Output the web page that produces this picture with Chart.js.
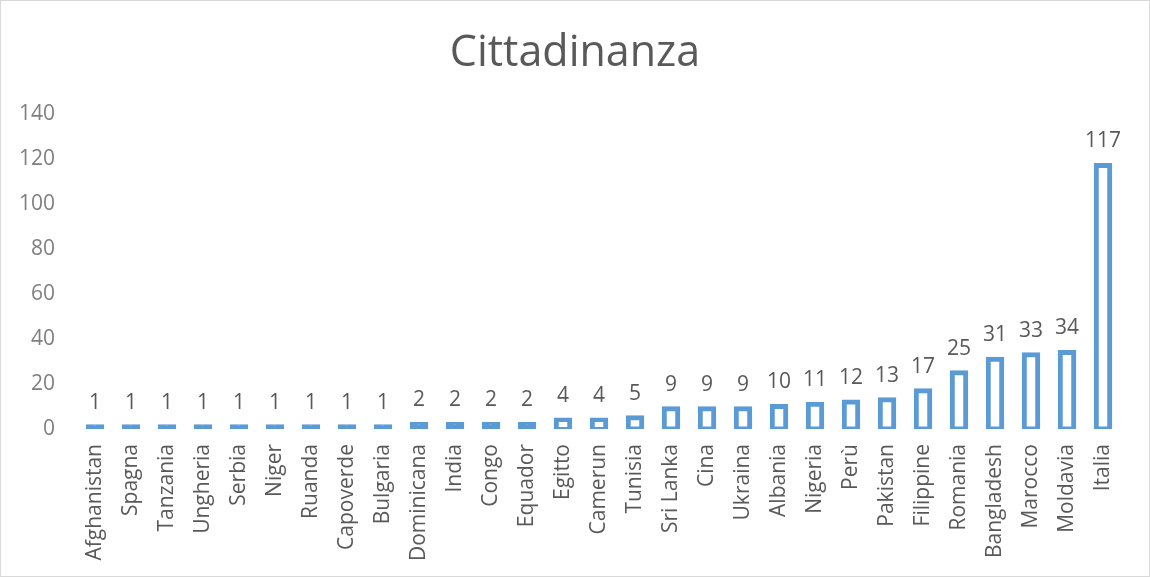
<!DOCTYPE html>
<html>
<head>
<meta charset="utf-8">
<script src="https://cdn.jsdelivr.net/npm/chart.js@4.4.1/dist/chart.umd.min.js"></script>
<style>
  html, body { margin: 0; padding: 0; background: #fff; }
  #wrap { width: 1148px; height: 575px; border: 1px solid #d9d9d9; }
</style>
</head>
<body>
<div id="wrap"><canvas id="Chart" width="1148" height="575"></canvas></div>
<script>
// categories and values
const countries = ["Afghanistan", "Spagna", "Tanzania", "Ungheria", "Serbia", "Niger", "Ruanda",
  "Capoverde", "Bulgaria", "Dominicana", "India", "Congo", "Equador", "Egitto", "Camerun",
  "Tunisia", "Sri Lanka", "Cina", "Ukraina", "Albania", "Nigeria", "Perù", "Pakistan",
  "Filippine", "Romania", "Bangladesh", "Marocco", "Moldavia", "Italia"];
const counts = [1, 1, 1, 1, 1, 1, 1, 1, 1, 2, 2, 2, 2, 4, 4, 5, 9, 9, 9, 10, 11, 12, 13, 17, 25, 31, 33, 34, 117];
const yTicks = [0, 20, 40, 60, 80, 100, 120, 140];

const blue = "#5b9bd5";
const grey = "#595959";
const font = "'Open Sans', sans-serif";

// draw the value above each bar
const valueLabels = {
  id: "valueLabels",
  afterDatasetsDraw(chart) {
    const ctx = chart.ctx;
    const meta = chart.getDatasetMeta(0);
    ctx.save();
    ctx.font = "21px " + font;
    ctx.fillStyle = grey;
    ctx.textAlign = "center";
    ctx.textBaseline = "middle";
    meta.data.forEach((bar, i) => {
      ctx.fillText(counts[i], bar.x, bar.y - 24);
    });
    ctx.restore();
  }
};

new Chart(document.getElementById("Chart"), {
  type: "bar",
  data: {
    labels: countries,
    datasets: [{
      data: counts,
      // very short bars are all outline, so they read as solid
      backgroundColor: (c) => (c.raw <= 2 ? blue : "#ffffff"),
      borderColor: blue,
      borderWidth: 5,
      inflateAmount: 2.5,
      borderSkipped: false,
      categoryPercentage: 1,
      barPercentage: 0.375
    }]
  },
  options: {
    responsive: false,
    animation: false,
    layout: { padding: 0 },
    plugins: {
      legend: { display: false },
      tooltip: { enabled: false },
      title: {
        display: true,
        text: "Cittadinanza",
        color: grey,
        font: { family: font, size: 43, weight: "normal" },
        padding: { top: 27, bottom: 34 }
      }
    },
    scales: {
      y: {
        min: 0,
        max: 140,
        afterBuildTicks: (axis) => { axis.ticks = yTicks.map(v => ({ value: v })); },
        afterFit: (axis) => { axis.width = 76; },
        grid: { display: false, drawTicks: false },
        border: { display: false },
        ticks: { color: "#7f7f7f", padding: 22, font: { family: font, size: 21 } }
      },
      // empty axis on the right, only to leave the margin
      yRight: {
        position: "right",
        afterFit: (axis) => { axis.width = 28; },
        grid: { display: false, drawTicks: false },
        border: { display: false },
        ticks: { display: false }
      },
      x: {
        afterFit: (axis) => { axis.height = 147; },
        grid: { display: false, drawTicks: false },
        border: { display: false },
        ticks: {
          color: grey, padding: 15, maxRotation: 90, minRotation: 90, autoSkip: false,
          font: { family: font, size: 21 }
        }
      }
    }
  },
  plugins: [valueLabels]
});
</script>
</body>
</html>
